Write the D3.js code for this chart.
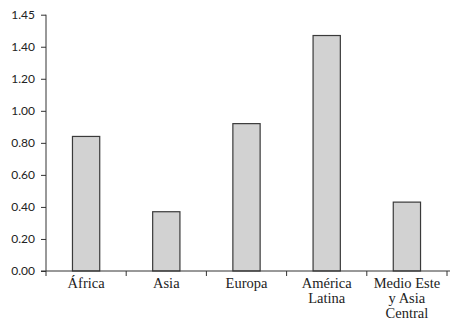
<!DOCTYPE html>
<html>
<head>
<meta charset="utf-8">
<script src="https://cdn.jsdelivr.net/npm/d3@7"></script>
<style>
  body { margin: 0; background: #fff; }
  .ytick text { font-family: Lato, "Open Sans", sans-serif; font-size: 12px; fill: #222; }
  .cat text { font-family: "Liberation Serif", serif; font-size: 14.5px; fill: #222; }
</style>
</head>
<body>
<svg id="chart" width="453" height="324"></svg>
<script>
// values
var regions = [['África'], ['Asia'], ['Europa'], ['América', 'Latina'], ['Medio Este', 'y Asia', 'Central']];
var values = [0.84, 0.37, 0.92, 1.47, 0.43];
var tickValues = [0, 0.2, 0.4, 0.6, 0.8, 1.0, 1.2, 1.4, 1.6];
var tickLabels = ['0.00', '0.20', '0.40', '0.60', '0.80', '1.00', '1.20', '1.40', '1.45'];

var svg = d3.select('#chart');
var mLeft = 46, mRight = 447, mTop = 14.7, mBottom = 271;

var names = regions.map(function(r){ return r.join(' '); });

var y = d3.scaleLinear().domain([0, 1.6]).range([mBottom, mTop]);
var x = d3.scaleBand().domain(names).range([mLeft, mRight])
  .paddingInner(0.66).paddingOuter(0.33);
var xCell = d3.scaleBand().domain(names).range([mLeft, mRight]).padding(0);

// bars
svg.append('g').selectAll('rect').data(values).enter().append('rect')
  .attr('x', function(d, i){ return x(names[i]); })
  .attr('y', function(d){ return y(d); })
  .attr('width', x.bandwidth())
  .attr('height', function(d){ return y(0) - y(d); })
  .attr('fill', '#d2d2d2')
  .attr('stroke', '#3a3a3a')
  .attr('stroke-width', 1.2);

// y axis
var yAxis = d3.axisLeft(y).tickValues(tickValues).tickSize(5).tickPadding(6)
  .tickFormat(function(d, i){ return tickLabels[i]; });
var yg = svg.append('g').attr('class', 'ytick')
  .attr('transform', 'translate(' + mLeft + ',0)')
  .call(yAxis);
yg.select('.domain').remove();
yg.selectAll('line').attr('stroke', '#333');
yg.append('line').attr('x1', 0).attr('x2', 0)
  .attr('y1', mTop).attr('y2', mBottom + 5).attr('stroke', '#333');

// x axis line + boundary ticks
var xg = svg.append('g');
xg.append('line').attr('x1', mLeft - 5).attr('x2', mRight + 3)
  .attr('y1', mBottom).attr('y2', mBottom).attr('stroke', '#333');
var bounds = names.map(function(n){ return xCell(n) + xCell.bandwidth(); });
xg.selectAll('.xt').data(bounds).enter().append('line')
  .attr('x1', function(d){ return d; }).attr('x2', function(d){ return d; })
  .attr('y1', mBottom).attr('y2', mBottom + 5).attr('stroke', '#333');

// category labels
var cg = svg.append('g').attr('class', 'cat');
regions.forEach(function(lines, i){
  var cx = x(names[i]) + x.bandwidth() / 2;
  var t = cg.append('text').attr('text-anchor', 'middle')
    .attr('x', cx)
    .attr('y', mBottom + 17);
  lines.forEach(function(l, j){
    t.append('tspan').attr('x', cx)
      .attr('dy', j === 0 ? 0 : 15).text(l);
  });
});
</script>
</body>
</html>
